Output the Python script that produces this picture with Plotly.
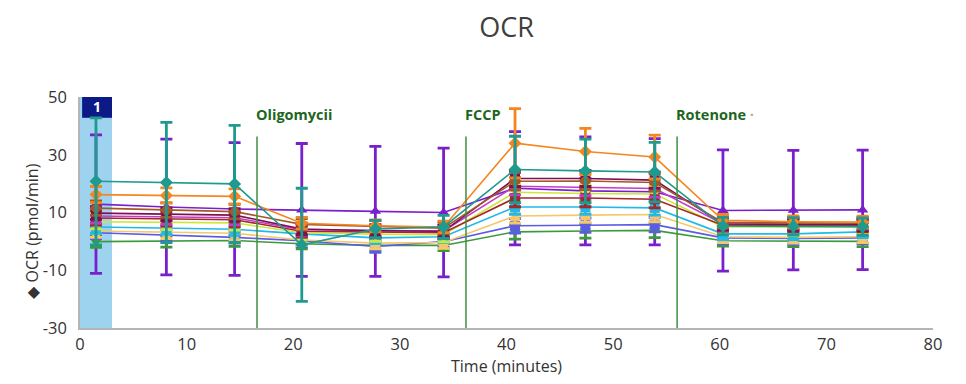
import plotly.graph_objects as go

times = [1.5, 8.1, 14.5, 20.8, 27.7, 34.1, 40.8, 47.4, 53.9, 60.3, 66.9, 73.4]
y_tick_vals = [-30, -10, 10, 30, 50]
y_tick_text = ["-30", "-10", "10", "30", "50"]

purple = [12.9, 11.9, 11.2, 10.9, 10.4, 10.0, 18.4, 17.5, 17.2, 10.7, 10.8, 10.9]
purple_err = [24, 23.5, 23, 23, 22.5, 22.3, 19.6, 18.7, 18.4, 21, 20.7, 20.7]
green = [-0.1, 0.0, 0.3, -0.8, -1.4, -1.4, 3.3, 3.6, 3.8, 0.2, 0.0, 0.0]
green_err = [2, 2, 2, 1.8, 1.8, 1.8, 2.5, 2.5, 2.5, 1.8, 1.8, 1.8]
blue = [3.0, 2.1, 1.4, 0.2, -1.8, -0.1, 5.4, 5.6, 5.8, 1.2, 1.0, 1.2]
blue_err = [2, 2, 2, 2, 2, 2, 2.5, 2.5, 2.5, 2, 2, 2]
lightorange = [3.6, 3.2, 2.8, 0.5, -0.6, -0.4, 8.8, 9.1, 9.3, 1.6, 1.4, 1.6]
lightorange_err = [2.2, 2.2, 2.2, 2, 2, 2, 2.5, 2.5, 2.5, 2, 2, 2]
cyan = [5.0, 4.6, 4.2, 2.6, 1.2, 1.6, 11.9, 11.9, 11.6, 2.6, 2.6, 3.3]
cyan_err = [2.2, 2.2, 2.2, 2, 2, 2, 2.5, 2.5, 2.5, 2, 2, 2]
yellowgreen = [6.8, 6.6, 6.4, 3.0, 2.5, 2.3, 17.0, 16.6, 16.4, 5.0, 5.0, 4.9]
yellowgreen_err = [2.5, 2.5, 2.5, 2.5, 2.5, 2.5, 3, 3, 3, 2.5, 3, 2.5]
darkred = [8.1, 7.8, 7.5, 3.5, 3.2, 3.0, 15.0, 15.0, 14.6, 5.6, 5.4, 5.3]
darkred_err = [2.5, 2.5, 2.5, 2, 2, 2, 3, 3, 3, 2, 2, 2]
magenta = [8.8, 8.4, 8.2, 4.0, 3.8, 3.6, 19.1, 18.8, 18.3, 6.0, 6.0, 5.9]
magenta_err = [2.5, 2.5, 2.5, 2, 2, 2, 3, 3, 3, 2, 2, 2]
maroon = [9.8, 9.4, 9.1, 4.3, 3.7, 3.5, 21.8, 21.8, 21.2, 6.0, 5.8, 5.7]
maroon_err = [2.2, 2.2, 2.2, 2, 2, 2, 2.8, 2.8, 2.8, 2, 2, 2]
brown = [11.5, 10.8, 10.3, 5.9, 5.2, 4.6, 20.8, 20.9, 20.4, 6.6, 6.4, 6.3]
brown_err = [2.5, 2.5, 2.5, 2, 2, 2, 3, 3, 3, 2, 2, 2]
orange = [16.2, 15.9, 15.6, 6.3, 5.4, 5.0, 34.0, 31.1, 29.2, 7.3, 6.8, 6.7]
orange_err = [2.8, 2.6, 2.6, 2, 2, 2, 12, 8, 7.6, 2, 2, 2]
teal = [20.8, 20.4, 19.9, -1.2, 4.3, 5.0, 24.9, 24.4, 24.0, 5.3, 5.2, 5.1]
teal_err = [22, 20.8, 20.3, 19.6, 3, 4, 11.5, 11, 10.3, 3, 3, 3]

series = [
    ("purple", purple, purple_err, "#7a1fcc", "triangle-up"),
    ("green", green, green_err, "#3c9a3c", "triangle-down"),
    ("blue", blue, blue_err, "#5b5be6", "square"),
    ("lightorange", lightorange, lightorange_err, "#f5c86a", "x"),
    ("cyan", cyan, cyan_err, "#22b8ea", "square"),
    ("yellowgreen", yellowgreen, yellowgreen_err, "#cde63a", "x"),
    ("darkred", darkred, darkred_err, "#a3282a", "square"),
    ("magenta", magenta, magenta_err, "#c23cc8", "triangle-up"),
    ("maroon", maroon, maroon_err, "#7d0f52", "square"),
    ("brown", brown, brown_err, "#a2582a", "diamond"),
    ("orange", orange, orange_err, "#f5861f", "diamond"),
    ("teal", teal, teal_err, "#1f9a8e", "diamond"),
]

fig = go.Figure()

# injection band and label
fig.add_shape(type="rect", xref="x", yref="y", x0=0, x1=3.0, y0=-30, y1=50,
              fillcolor="#9dd3ef", line_width=0, layer="below")
fig.add_shape(type="rect", xref="x", yref="y", x0=0.2, x1=3.0, y0=42.8, y1=50,
              fillcolor="#0b1a86", line_width=0, layer="below")
fig.add_annotation(x=1.6, y=46.6, xref="x", yref="y", text="<b>1</b>", showarrow=False,
                   font=dict(family="Open Sans", size=14, color="white"))

for nm, vals, err, col, sym in series:
    fig.add_trace(go.Scatter(
        x=times, y=vals, mode="lines+markers", name=nm,
        line=dict(color=col, width=1.6),
        marker=dict(color=col, symbol=sym, size=10),
        error_y=dict(type="data", array=err, visible=True, color=col, thickness=2.8, width=6),
        showlegend=False,
    ))

inj = [(16.6, "Oligomycii"), (36.2, "FCCP"), (56.0, "Rotenone <span style='color:#aaaaaa'>·</span>")]
for xv, lab in inj:
    fig.add_shape(type="line", xref="x", yref="y", x0=xv, x1=xv, y0=-30, y1=36.3,
                  line=dict(color="#3f8f3f", width=1.5))
    fig.add_annotation(x=xv, y=43.8, xref="x", yref="y", text="<b>" + lab + "</b>",
                       showarrow=False, xanchor="left", xshift=-3,
                       font=dict(family="Open Sans", size=14.5, color="#1d661d"))

fig.add_annotation(x=-0.072, y=0.42, xref="paper", yref="paper", text="◆ OCR (pmol/min)",
                   textangle=-90, showarrow=False,
                   font=dict(family="Open Sans", size=16, color="#333333"))

fig.update_layout(
    width=958, height=376,
    margin=dict(l=72, r=33, t=89, b=54),
    paper_bgcolor="white", plot_bgcolor="white",
    title=dict(text="OCR", x=0.5, xref="paper", y=0.947, yref="container", yanchor="middle",
               font=dict(family="Open Sans", size=27, color="#404040")),
    xaxis=dict(range=[0, 80], dtick=10, tick0=0, showgrid=False, zeroline=False,
               showline=True, linecolor="#b5b5b5", linewidth=1.5, ticks="",
               tickfont=dict(family="Open Sans", size=16.5, color="#333333"),
               title=dict(text="Time (minutes)", standoff=6,
                          font=dict(family="Open Sans", size=16, color="#333333"))),
    yaxis=dict(range=[-30, 50], tickvals=y_tick_vals, ticktext=y_tick_text,
               showgrid=False, zeroline=False,
               showline=True, linecolor="#b5b5b5", linewidth=1.5, ticks="",
               ticklabelstandoff=8,
               tickfont=dict(family="Open Sans", size=16.5, color="#333333")),
)

fig.write_html("out.html")
